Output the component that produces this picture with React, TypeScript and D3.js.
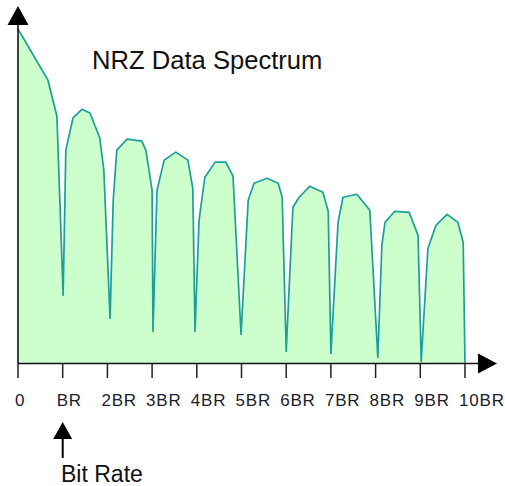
import React, { useEffect, useRef } from 'react';
import * as d3 from 'd3';

// frequency in multiples of the bit rate
const freq = [
  0, 0.67, 0.87, 1.01,
  1.07, 1.23, 1.43, 1.61, 1.83, 1.92, 2.06,
  2.13, 2.21, 2.44, 2.77, 2.86, 3.0, 3.02,
  3.11, 3.27, 3.53, 3.8, 3.91, 3.96,
  4.05, 4.18, 4.41, 4.65, 4.81, 4.99,
  5.15, 5.28, 5.57, 5.82, 5.91, 6.0,
  6.15, 6.29, 6.53, 6.82, 6.94, 7.0,
  7.16, 7.27, 7.58, 7.87, 8.05,
  8.14, 8.21, 8.43, 8.75, 8.95, 9.02,
  9.17, 9.35, 9.6, 9.84, 9.96, 10,
];

// relative spectral level
const level = [
  100, 84.7, 74.0, 20.4,
  63.8, 73.4, 76.0, 74.9, 67.4, 57.8, 13.5,
  48.8, 63.8, 67.1, 66.5, 63.8, 51.8, 9.6,
  51.8, 60.8, 63.2, 60.8, 52.4, 9.6,
  42.8, 55.7, 60.2, 60.2, 56.0, 8.7,
  48.8, 53.9, 55.4, 53.9, 49.7, 3.6,
  46.7, 49.7, 53.0, 51.2, 45.5, 3.0,
  42.2, 49.7, 50.6, 45.8, 1.8,
  35.3, 42.2, 45.5, 45.2, 38.3, 0.6,
  34.4, 41.3, 44.6, 42.2, 36.2, 0,
];

const tickValues = [0, 1, 2, 3, 4, 5, 6, 7, 8, 9, 10];
const tickLabels = ['0', 'BR', '2BR', '3BR', '4BR', '5BR', '6BR', '7BR', '8BR', '9BR', '10BR'];

const title = 'NRZ Data Spectrum';
const markerLabel = 'Bit Rate';
const markerAt = 1;

const width = 505;
const height = 486;

const App: React.FC = () => {
  const svgRef = useRef<SVGSVGElement>(null);

  useEffect(() => {
    if (!svgRef.current) return;
    const svg = d3.select(svgRef.current);
    svg.selectAll('*').remove();

    const x = d3.scaleLinear().domain([0, 10]).range([18, 465]);
    const y = d3.scaleLinear().domain([0, 100]).range([363.5, 29]);
    const pts = freq.map((f, i) => [f, level[i]] as [number, number]);
    const font = '"Liberation Sans", Arial, Helvetica, sans-serif';

    // filled spectrum
    const area = d3.area<[number, number]>()
      .x(d => x(d[0]))
      .y0(y(0))
      .y1(d => y(d[1]));
    svg.append('path')
      .attr('d', area(pts))
      .attr('fill', '#ccffcc');

    const line = d3.line<[number, number]>()
      .x(d => x(d[0]))
      .y(d => y(d[1]));
    svg.append('path')
      .attr('d', line(pts))
      .attr('fill', 'none')
      .attr('stroke', '#1e9d9d')
      .attr('stroke-width', 1.7)
      .attr('stroke-linejoin', 'round');

    // axes
    const x0 = x(0);
    const yAxis = y(0);
    svg.append('line')
      .attr('x1', x0).attr('x2', x0)
      .attr('y1', 24).attr('y2', yAxis)
      .attr('stroke', '#111').attr('stroke-width', 1.6);
    svg.append('path')
      .attr('d', `M${x0},6 L${x0 - 10.5},25 L${x0 + 10.5},25 Z`)
      .attr('fill', '#000');

    svg.append('line')
      .attr('x1', x0).attr('x2', 480)
      .attr('y1', yAxis).attr('y2', yAxis)
      .attr('stroke', '#111').attr('stroke-width', 1.6);
    svg.append('path')
      .attr('d', `M497,${yAxis} L478,${yAxis - 10} L478,${yAxis + 10} Z`)
      .attr('fill', '#000');

    const ticks = svg.append('g');
    ticks.selectAll('line')
      .data(tickValues)
      .enter().append('line')
      .attr('x1', d => x(d)).attr('x2', d => x(d))
      .attr('y1', yAxis).attr('y2', 378)
      .attr('stroke', '#222').attr('stroke-width', 1.5);
    // labels start a little left of their tick
    ticks.selectAll('text')
      .data(tickValues)
      .enter().append('text')
      .attr('x', d => x(d) - (d === 0 ? 3 : 6))
      .attr('y', 406)
      .attr('font-family', font)
      .attr('font-size', '17px')
      .attr('letter-spacing', '0.8px')
      .attr('fill', '#1c1c2c')
      .text((_, i) => tickLabels[i]);

    // title
    svg.append('text')
      .attr('x', 92)
      .attr('y', 69)
      .attr('font-family', font)
      .attr('font-size', '25.6px')
      .attr('fill', '#111')
      .text(title);

    // bit rate marker
    const mx = x(markerAt);
    svg.append('path')
      .attr('d', `M${mx},422 L${mx - 9.5},439 L${mx + 9.5},439 Z`)
      .attr('fill', '#000');
    svg.append('line')
      .attr('x1', mx).attr('x2', mx)
      .attr('y1', 438).attr('y2', 458)
      .attr('stroke', '#000').attr('stroke-width', 2);
    svg.append('text')
      .attr('x', 61)
      .attr('y', 482)
      .attr('font-family', font)
      .attr('font-size', '23px')
      .attr('fill', '#111')
      .text(markerLabel);
  }, []);

  return (
    <svg
      ref={svgRef}
      width={width}
      height={height}
      style={{ position: 'absolute', left: 0, top: 0, background: '#fff' }}
    />
  );
};

export default App;
